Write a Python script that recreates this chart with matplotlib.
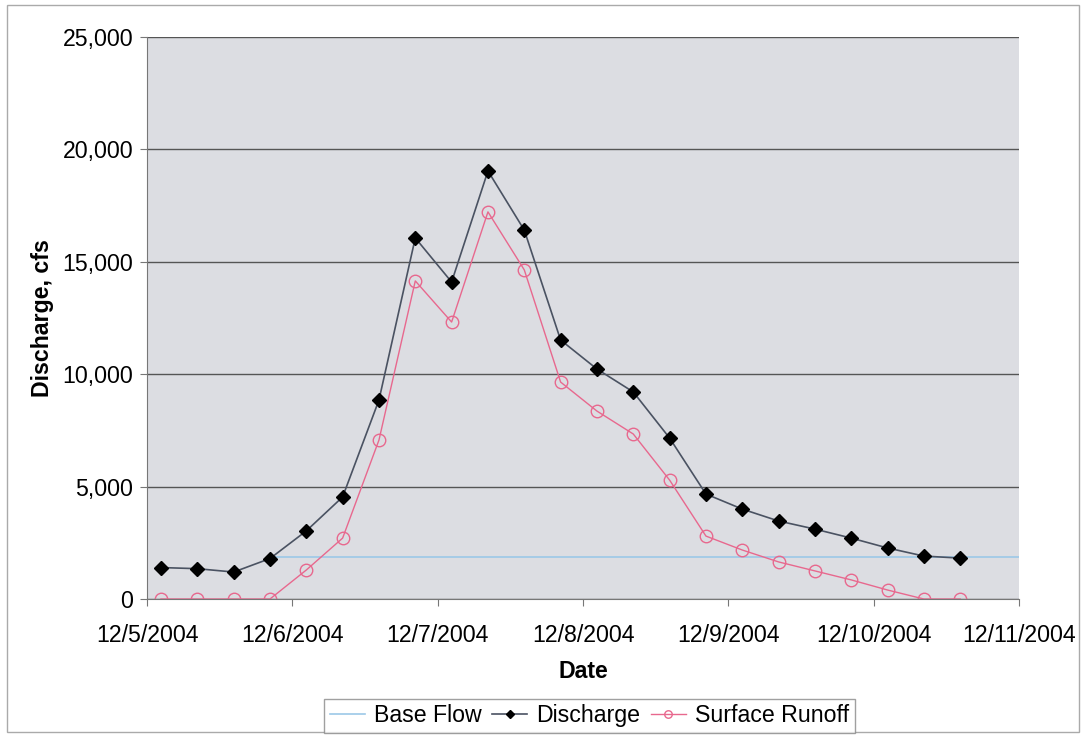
import matplotlib
matplotlib.use("Agg")
import matplotlib.pyplot as plt
from matplotlib.patches import Rectangle
from matplotlib.ticker import FuncFormatter
from datetime import datetime, timedelta

plt.rcParams['font.family'] = ['Liberation Sans', 'DejaVu Sans']

# Дані (крок 6 годин)
start = datetime(2004, 12, 5, 2, 18)
hours = [6 * i for i in range(23)]
discharge = [1400, 1350, 1200, 1800, 3030, 4540, 8850, 16060, 14100, 19040,
             16410, 11520, 10230, 9210, 7160, 4670, 4000, 3470, 3110, 2710,
             2270, 1910, 1820]
runoff = [0, 0, 0, 0, 1290, 2710, 7070, 14150, 12320, 17220,
          14640, 9650, 8360, 7340, 5290, 2800, 2180, 1650, 1250, 850,
          400, 0, 0]
base_flow = 1850
base_start = 3  # індекс точки, з якої починається базовий стік
date_ticks = [datetime(2004, 12, d) for d in range(5, 12)]

times = [start + timedelta(hours=h) for h in hours]
fs = 16.7

fig = plt.figure(figsize=(10.86, 7.35), dpi=100)
ax = fig.add_axes([0.1354, 0.185, 0.8029, 0.7647])
ax.set_facecolor('#dcdde2')

ax.plot([times[base_start], date_ticks[-1]], [base_flow, base_flow],
        color='#9cc8e8', lw=1.2, label='Base Flow')
ax.plot(times, discharge, color='#4a5262', lw=1.2, marker='D', ms=7,
        mfc='black', mec='black', label='Discharge')
ax.plot(times, runoff, color='#e8688e', lw=1.0, marker='o', ms=9,
        mfc='none', mec='#e8688e', label='Surface Runoff')

ax.set_ylim(0, 25000)
ax.set_xlim(date_ticks[0], date_ticks[-1])
ax.set_yticks(range(0, 25001, 5000))
ax.yaxis.set_major_formatter(FuncFormatter(lambda v, p: f'{int(v):,}'))
ax.set_xticks(date_ticks)
ax.set_xticklabels([f'{d.month}/{d.day}/{d.year}' for d in date_ticks])
ax.grid(axis='y', color='#555555', lw=1)
ax.set_axisbelow(True)

for s in ['top', 'right']:
    ax.spines[s].set_visible(False)
for s in ['left', 'bottom']:
    ax.spines[s].set_color('#777777')
ax.tick_params(axis='both', labelsize=fs, direction='out', length=5,
               color='#777777')
ax.tick_params(axis='x', pad=13)
ax.tick_params(axis='y', pad=5)

ax.set_xlabel('Date', fontsize=fs, fontweight='bold', labelpad=9)
ax.set_ylabel('Discharge, cfs', fontsize=fs, fontweight='bold', labelpad=6)

leg = fig.legend(loc='center', bbox_to_anchor=(0.543, 0.026), ncol=3,
                 fontsize=fs, frameon=True, fancybox=False, edgecolor='#888888',
                 handlelength=1.5, handletextpad=0.4, columnspacing=0.45,
                 borderpad=0.25, markerscale=0.6)
leg.get_frame().set_linewidth(1)

fig.patches.append(Rectangle((0.006, 0.004), 0.988, 0.989, transform=fig.transFigure,
                             fill=False, edgecolor='#aaaaaa', lw=1))

fig.savefig('out.png', dpi=100)
